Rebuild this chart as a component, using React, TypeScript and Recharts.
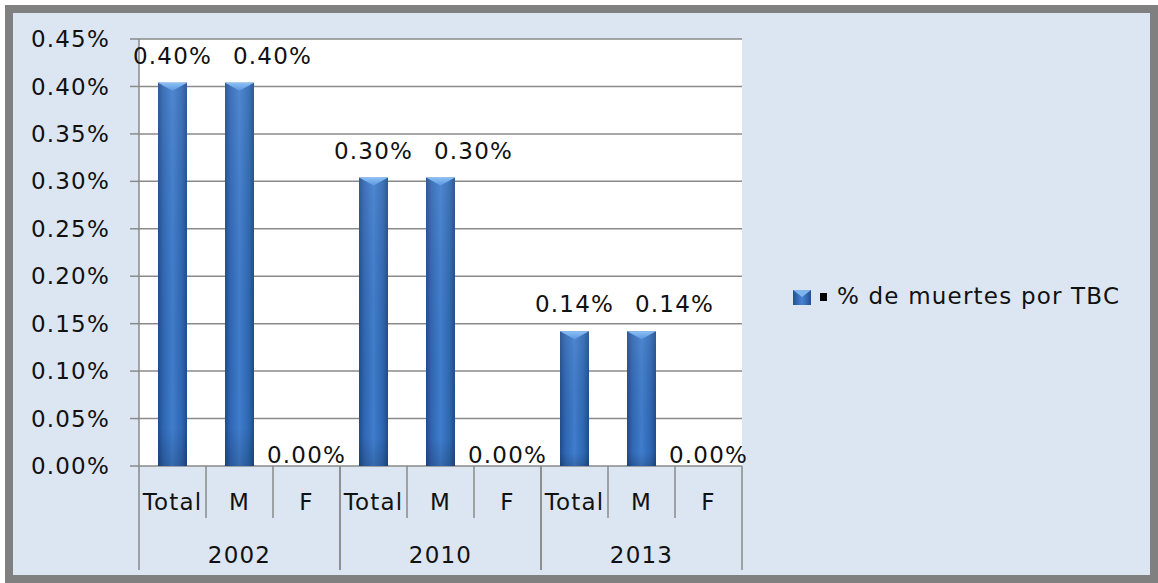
import React from 'react';
import { BarChart, Bar, XAxis, YAxis, CartesianGrid, LabelList, Legend } from 'recharts';

const categories = ['Total', 'M', 'F', 'Total', 'M', 'F', 'Total', 'M', 'F'];
const years = ['2002', '2002', '2002', '2010', '2010', '2010', '2013', '2013', '2013'];
const values = [0.00404, 0.00404, 0, 0.00304, 0.00304, 0, 0.00142, 0.00142, 0];
const yTicks = [0, 0.0005, 0.001, 0.0015, 0.002, 0.0025, 0.003, 0.0035, 0.004, 0.0045];
const seriesName = '% de muertes por TBC';

const data = categories.map((c, i) => ({ label: c, year: years[i], value: values[i] }));

const FONT = '"DejaVu Sans", Verdana, sans-serif';
const FS = 23;
const LS = 1.2;
const GRID = '#8a8a8a';

const pct = (v: number) => (v * 100).toFixed(2) + '%';

const BarShape = (props: any) => {
  const { x, y, width, height } = props;
  if (!height || height <= 0) return null;
  const tri = Math.min(8, height);
  return (
    <g>
      <rect x={x} y={y} width={width} height={height} fill="url(#barGrad)" />
      <rect x={x} y={y} width={width} height={height} fill="url(#barShade)" />
      <polygon points={`${x},${y} ${x + width},${y} ${x + width / 2},${y + tri}`} fill="url(#topGrad)" />
    </g>
  );
};

const ValueLabel = (props: any) => {
  const { x, y, width, height, value, index } = props;
  const by = height > 0 ? y - 19 : y - 3;
  // the reference pushes the second label of each group to the right to avoid overlap
  const shift = index % 3 === 1 ? 33 : 0;
  return (
    <text x={x + width / 2 + shift} y={by} textAnchor="middle" fontFamily={FONT} fontSize={FS} letterSpacing={LS} fill="#111">
      {pct(value)}
    </text>
  );
};

const SubTick = (props: any) => {
  const { x, y, payload, index } = props;
  const off = payload.offset;
  return (
    <g>
      <text x={x} y={y + 44} textAnchor="middle" fontFamily={FONT} fontSize={FS} letterSpacing={LS} fill="#111">
        {payload.value}
      </text>
      {index % 3 !== 2 && (
        <line x1={x + off} x2={x + off} y1={y} y2={y + 52} stroke={GRID} strokeWidth={1.5} />
      )}
    </g>
  );
};

const GroupTick = (props: any) => {
  const { x, y, payload, index } = props;
  const off = payload.offset * 3;
  if (index % 3 !== 1) return null;
  return (
    <g>
      <text x={x} y={y + 47} textAnchor="middle" fontFamily={FONT} fontSize={FS} letterSpacing={LS} fill="#111">
        {payload.value}
      </text>
      <line x1={x - off} x2={x - off} y1={y - 50} y2={y + 54} stroke={GRID} strokeWidth={1.5} />
      <line x1={x + off} x2={x + off} y1={y - 50} y2={y + 54} stroke={GRID} strokeWidth={1.5} />
    </g>
  );
};

const LegendContent = () => (
  <svg width={370} height={40} style={{ display: 'block' }}>
    <defs>
      <linearGradient id="legGrad" x1="0" y1="0" x2="1" y2="0">
        <stop offset="0" stopColor="#22518f" />
        <stop offset="0.5" stopColor="#4683d3" />
        <stop offset="1" stopColor="#22518f" />
      </linearGradient>
    </defs>
    <rect x={3} y={10} width={18} height={15} fill="url(#legGrad)" />
    <polygon points="3,10 21,10 12,17" fill="#7fb4ef" />
    <rect x={30} y={13} width={7} height={8} fill="#000" />
    <text x={47} y={24} fontFamily={FONT} fontSize={FS} letterSpacing={LS} fill="#111">
      {seriesName}
    </text>
  </svg>
);

export default function App() {
  return (
    <div style={{ position: 'absolute', left: 0, top: 0, width: 1158, height: 583, background: '#fff', overflow: 'hidden' }}>
      <div
        style={{
          position: 'absolute',
          left: 5,
          top: 5,
          width: 1153,
          height: 578,
          boxSizing: 'border-box',
          border: '8px solid #808080',
          background: '#DCE6F2',
        }}
      />
      <div style={{ position: 'absolute', left: 0, top: 0 }}>
        <BarChart width={1158} height={583} data={data} margin={{ top: 39, right: 416, left: 0, bottom: 7 }} barSize={29}>
          <defs>
            <linearGradient id="barGrad" x1="0" y1="0" x2="1" y2="0">
              <stop offset="0" stopColor="#1f4c8a" />
              <stop offset="0.18" stopColor="#2f66b2" />
              <stop offset="0.5" stopColor="#3f7dcc" />
              <stop offset="0.82" stopColor="#2f66b2" />
              <stop offset="1" stopColor="#1f4c8a" />
            </linearGradient>
            <linearGradient id="barShade" x1="0" y1="0" x2="0" y2="1">
              <stop offset="0" stopColor="#ffffff" stopOpacity={0.08} />
              <stop offset="0.9" stopColor="#000000" stopOpacity={0} />
              <stop offset="1" stopColor="#000000" stopOpacity={0.15} />
            </linearGradient>
            <linearGradient id="topGrad" x1="0" y1="0" x2="0" y2="1">
              <stop offset="0" stopColor="#8cc0f5" />
              <stop offset="1" stopColor="#5b98e0" />
            </linearGradient>
          </defs>
          <CartesianGrid vertical={false} stroke={GRID} strokeWidth={1.5} fill="#ffffff" />
          <YAxis
            width={139}
            domain={[0, 0.0045]}
            ticks={yTicks}
            tickFormatter={pct}
            interval={0}
            tickSize={9}
            tickMargin={20}
            axisLine={{ stroke: GRID, strokeWidth: 1.5 }}
            tickLine={{ stroke: GRID, strokeWidth: 1.5 }}
            tick={{ fontFamily: FONT, fontSize: FS, letterSpacing: LS, fill: '#111' }}
          />
          <XAxis
            xAxisId={0}
            dataKey="label"
            height={50}
            interval={0}
            tickSize={0}
            tickMargin={0}
            axisLine={false}
            tickLine={false}
            tick={<SubTick />}
          />
          <XAxis
            xAxisId="grp"
            dataKey="year"
            height={60}
            interval={0}
            tickSize={0}
            tickMargin={0}
            axisLine={false}
            tickLine={false}
            tick={<GroupTick />}
          />
          <Legend
            layout="horizontal"
            verticalAlign="middle"
            align="center"
            content={<LegendContent />}
            wrapperStyle={{ left: 790, top: 280, width: 370, height: 40 }}
          />
          <Bar dataKey="value" name={seriesName} xAxisId={0} shape={<BarShape />} isAnimationActive={false}>
            <LabelList dataKey="value" content={<ValueLabel />} />
          </Bar>
        </BarChart>
      </div>
    </div>
  );
}
